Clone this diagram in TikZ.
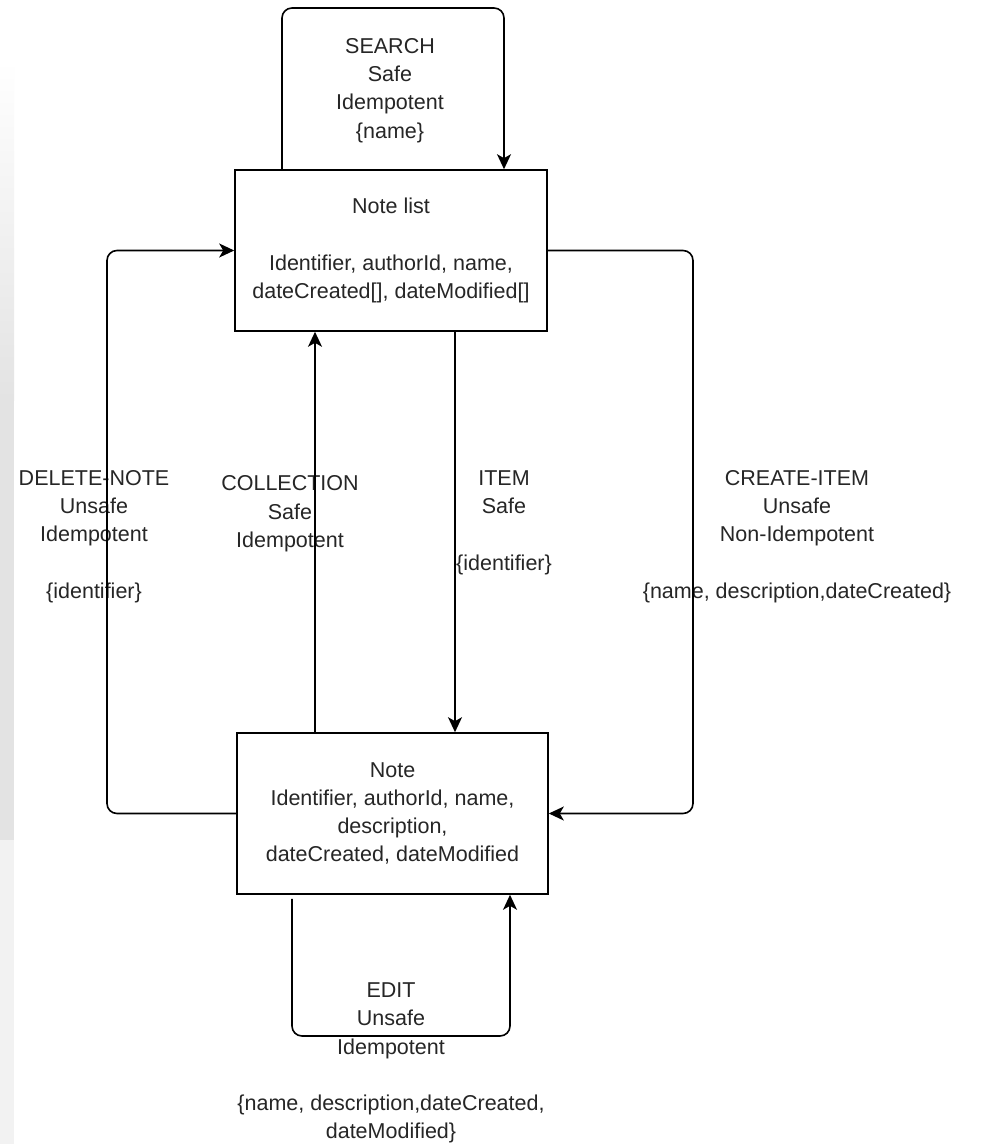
\documentclass[tikz,border=0pt]{standalone}
\usepackage{fontspec}
\setmainfont{Liberation Sans}
\usetikzlibrary{arrows.meta}

\begin{document}
\begin{tikzpicture}[x=0.5pt,y=-0.5pt,
  box/.style={draw,line width=0.8pt,minimum width=156pt,minimum height=80.5pt,inner sep=0pt,align=center,text=black!85},
  lbl/.style={align=center,text=black!85,inner sep=0pt},
  link/.style={line width=0.8pt,rounded corners=5pt,-{Stealth[length=7.5pt,width=7pt,inset=2pt]}},
  every node/.append style={font=\fontsize{10.75}{14.15}\selectfont}]
  \useasboundingbox (0,0) rectangle (988,1144);
  \fill[white] (0,0) rectangle (988,1144);
  \shade[top color=white,bottom color=black!11] (0,60) rectangle (14,400);
  \fill[black!11] (0,400) rectangle (14,840);
  \fill[black!5] (0,840) rectangle (14,1144);

  \node[lbl] (searchlbl) at (390,90.5) {SEARCH\\Safe\\Idempotent\\\{name\}};
  \node[lbl] (dellbl) at (94,536.5) {DELETE-NOTE\\Unsafe\\Idempotent\\[14.15pt]\{identifier\}};
  \node[lbl] (colllbl) at (290,514) {COLLECTION\\Safe\\Idempotent};
  \node[lbl] (itemlbl) at (504,522.5) {ITEM\\Safe\\[14.15pt]\{identifier\}};
  \node[lbl] (createlbl) at (797,536.5) {CREATE-ITEM\\Unsafe\\Non-Idempotent\\[14.15pt]\{name, description,dateCreated\}};
  \node[lbl] (editlbl) at (391,1063) {EDIT\\Unsafe\\Idempotent\\[14.15pt]\{name, description,dateCreated,\\dateModified\}};

  \node[box] (list) at (391,250.5) {Note list\\[14.15pt]Identifier, authorId, name,\\dateCreated[], dateModified[]};
  \node[box,minimum width=155.5pt] (note) at (392.5,813.5) {Note\\Identifier, authorId, name,\\description,\\dateCreated, dateModified};

  \coordinate (search) at (391,8);
  \coordinate (del) at (107,530);
  \coordinate (coll) at (315,530);
  \coordinate (item) at (455,530);
  \coordinate (create) at (693,530);
  \coordinate (edit) at (400,1036);

  \draw[link] ([xshift=-54.5pt]list.north) |- (search) -| ([xshift=56.5pt]list.north);
  \draw[link] (note.west) -| (del) |- (list.west);
  \draw[link] (note.north -| coll) -- (list.south -| coll);
  \draw[link] (list.south -| item) -- (note.north -| item);
  \draw[link] (list.east) -| (create) |- (note.east);
  \draw[link] ([xshift=-50.25pt,yshift=-2pt]note.south) |- (edit) -| ([xshift=58.75pt]note.south);
\end{tikzpicture}
\end{document}
